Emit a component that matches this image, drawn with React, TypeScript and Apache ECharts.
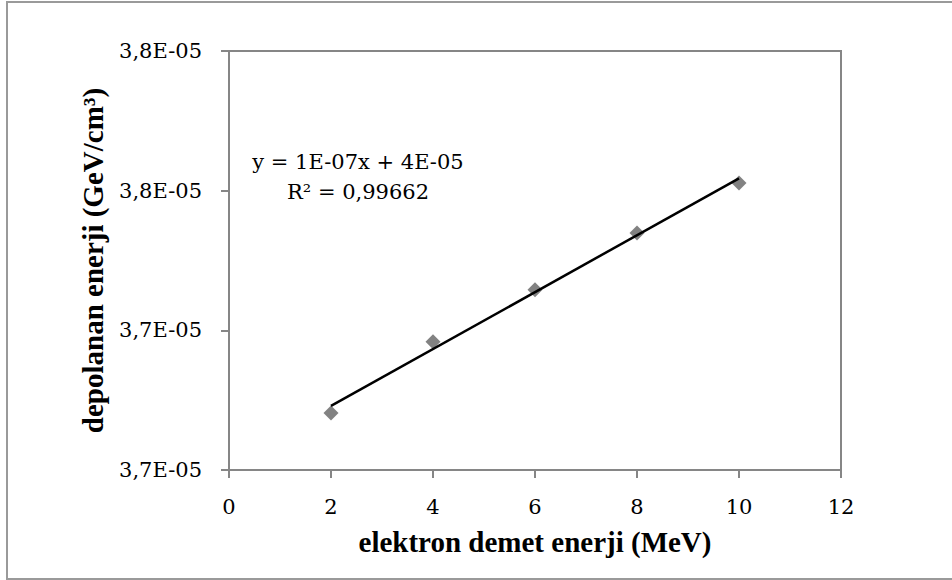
import React, { useEffect, useRef } from "react";
import * as echarts from "echarts";

// Beam energy (MeV)
const elektronEnerji = [2, 4, 6, 8, 10];
// Deposited energy, in units of 1E-05 GeV/cm³
const depolananEnerjiE05 = [3.6963, 3.7167, 3.7316, 3.7479, 3.7622];
const trendEquation = "y = 1E-07x + 4E-05";
const trendR2 = "R² = 0,99662";
const xTitle = "elektron demet enerji (MeV)";
const yTitle = "depolanan enerji (GeV/cm³)";

function linearFit(xs: number[], ys: number[]) {
  const n = xs.length;
  const mx = xs.reduce((a, b) => a + b, 0) / n;
  const my = ys.reduce((a, b) => a + b, 0) / n;
  let sxy = 0, sxx = 0;
  for (let i = 0; i < n; i++) {
    sxy += (xs[i] - mx) * (ys[i] - my);
    sxx += (xs[i] - mx) * (xs[i] - mx);
  }
  const slope = sxy / sxx;
  return { slope, intercept: my - slope * mx };
}

export default function App() {
  const ref = useRef<HTMLDivElement>(null);
  useEffect(() => {
    if (!ref.current) return;
    const chart = echarts.init(ref.current, null, { renderer: "svg" });
    const fit = linearFit(elektronEnerji, depolananEnerjiE05);
    const x0 = Math.min(...elektronEnerji);
    const x1 = Math.max(...elektronEnerji);
    const trend = [
      [x0, fit.intercept + fit.slope * x0],
      [x1, fit.intercept + fit.slope * x1],
    ];
    const axisColor = "#868686";
    const labelFont = "DejaVu Serif";
    chart.setOption({
      animation: false,
      backgroundColor: "#ffffff",
      grid: {
        left: 229,
        right: 111,
        top: 51,
        bottom: 110,
        show: true,
        borderColor: axisColor,
        borderWidth: 2,
        backgroundColor: "transparent",
      },
      xAxis: {
        type: "value",
        min: 0,
        max: 12,
        interval: 2,
        name: xTitle,
        nameLocation: "middle",
        nameGap: 57,
        nameTextStyle: {
          fontFamily: "Liberation Serif",
          fontWeight: "bold",
          fontSize: 29,
          color: "#000",
        },
        axisLine: { show: true, lineStyle: { color: axisColor, width: 2 } },
        axisTick: { show: true, length: 8, lineStyle: { color: axisColor, width: 2 } },
        axisLabel: { fontFamily: labelFont, fontSize: 21, color: "#000", margin: 26 },
        splitLine: { show: false },
      },
      yAxis: {
        type: "value",
        min: 3.68,
        max: 3.8,
        interval: 0.04,
        name: yTitle,
        nameLocation: "middle",
        nameGap: 122,
        nameTextStyle: {
          fontFamily: "Liberation Serif",
          fontWeight: "bold",
          fontSize: 29,
          color: "#000",
        },
        axisLine: { show: true, lineStyle: { color: axisColor, width: 2 } },
        axisTick: { show: true, length: 8, lineStyle: { color: axisColor, width: 2 } },
        axisLabel: {
          fontFamily: labelFont,
          fontSize: 21,
          color: "#000",
          margin: 27,
          formatter: (v: number) => v.toFixed(1).replace(".", ",") + "E-05",
        },
        splitLine: { show: false },
      },
      graphic: [
        {
          type: "rect",
          shape: { x: 7, y: 2, width: 980, height: 577 },
          style: { fill: "none", stroke: "#9a9a9a", lineWidth: 2 },
          silent: true,
        },
        {
          type: "text",
          x: 358,
          y: 162,
          style: {
            text: trendEquation,
            fontFamily: labelFont,
            fontSize: 21,
            fill: "#000",
            textAlign: "center",
            textVerticalAlign: "middle",
          },
        },
        {
          type: "text",
          x: 358,
          y: 192,
          style: {
            text: trendR2,
            fontFamily: labelFont,
            fontSize: 21,
            fill: "#000",
            textAlign: "center",
            textVerticalAlign: "middle",
          },
        },
      ],
      series: [
        {
          type: "scatter",
          data: elektronEnerji.map((x, i) => [x, depolananEnerjiE05[i]]),
          symbol: "diamond",
          symbolSize: 15,
          itemStyle: { color: "#636363" },
          z: 3,
        },
        {
          type: "line",
          data: trend,
          symbol: "none",
          lineStyle: { color: "#000", width: 2.5 },
          z: 4,
        },
      ],
    });
    return () => chart.dispose();
  }, []);
  return (
    <div
      ref={ref}
      style={{ position: "fixed", left: 0, top: 0, width: 952, height: 580 }}
    />
  );
}
